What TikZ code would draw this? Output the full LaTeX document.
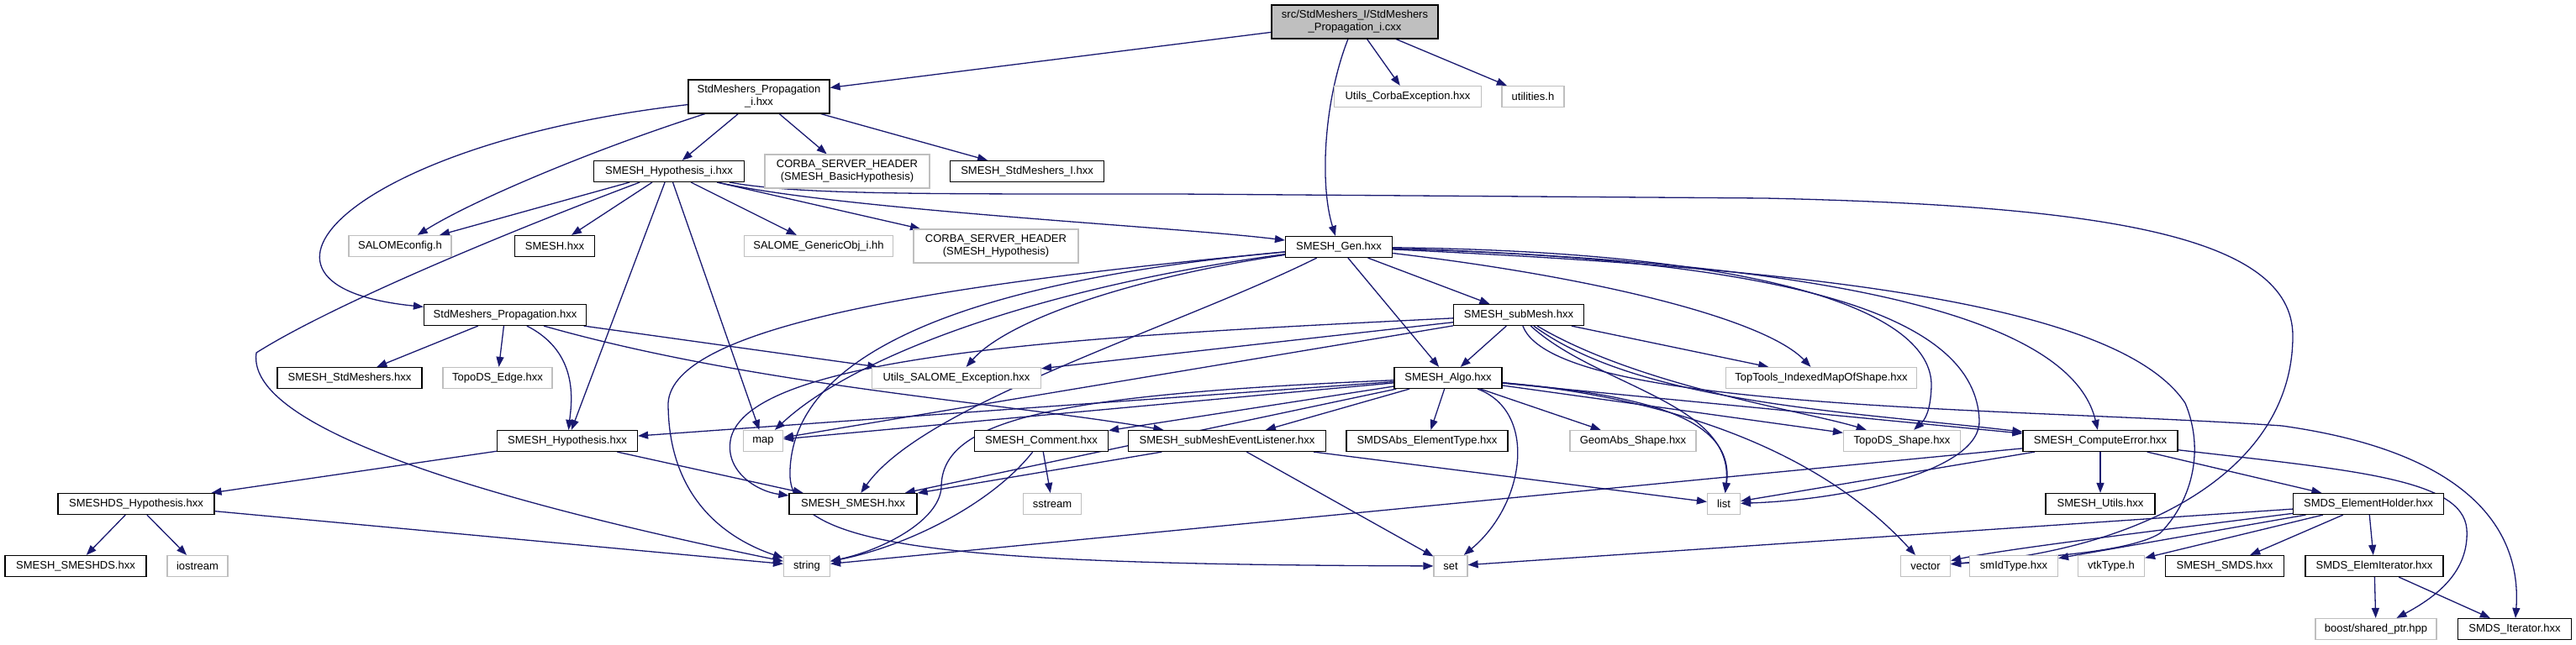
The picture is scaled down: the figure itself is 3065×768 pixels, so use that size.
\documentclass[tikz,border=0pt]{standalone}
\usepackage{fontspec}
\setmainfont{Liberation Sans}
\usepackage{tikz}
\usetikzlibrary{arrows.meta, backgrounds}
\definecolor{edgeblue}{HTML}{191970}
\definecolor{sysgray}{HTML}{BFBFBF}
\newcommand{\graphfont}{\fontsize{13}{15}\selectfont}

\begin{document}
\begin{tikzpicture}[
    x=1pt, y=-1pt,
    box/.style={draw=black, line width=1.2pt, fill=white, minimum height=25pt, inner xsep=2pt, inner ysep=1pt, align=center, font=\graphfont},
    sysbox/.style={box, draw=sysgray},
    arrow/.style={-{Triangle[length=12pt, width=9pt]}, color=edgeblue, line width=1.3pt},
]
    \useasboundingbox (0,0) rectangle (3065,768);

    % source file and first level
    \node[box, fill=sysgray, minimum width=198pt, minimum height=40pt] (cxx) at (1612,26) {src/StdMeshers\_I/StdMeshers\\\_Propagation\_i.cxx};
    \node[box, minimum width=168pt, minimum height=40pt] (propi) at (903,115) {StdMeshers\_Propagation\\\_i.hxx};
    \node[sysbox, minimum width=175pt] (corbaexc) at (1675,115) {Utils\_CorbaException.hxx};
    \node[sysbox, minimum width=74pt] (utilities) at (1824,115) {utilities.h};

    \node[box, minimum width=179pt] (hypi) at (796,204) {SMESH\_Hypothesis\_i.hxx};
    \node[sysbox, minimum width=196pt, minimum height=40pt] (basichyp) at (1008,204) {CORBA\_SERVER\_HEADER\\(SMESH\_BasicHypothesis)};
    \node[box, minimum width=183pt] (stdmi) at (1222,204) {SMESH\_StdMeshers\_I.hxx};

    \node[sysbox, minimum width=122pt] (salomeconfig) at (476,293) {SALOMEconfig.h};
    \node[box, minimum width=95pt] (smeshidl) at (660,293) {SMESH.hxx};
    \node[sysbox, minimum width=177pt] (genericobj) at (974,293) {SALOME\_GenericObj\_i.hh};
    \node[sysbox, minimum width=196pt, minimum height=40pt] (corbahyp) at (1185,293) {CORBA\_SERVER\_HEADER\\(SMESH\_Hypothesis)};
    \node[box, minimum width=127pt] (gen) at (1593,294) {SMESH\_Gen.hxx};

    \node[box, minimum width=193pt] (prop) at (601,375) {StdMeshers\_Propagation.hxx};
    \node[box, minimum width=155pt] (submesh) at (1807,375) {SMESH\_subMesh.hxx};

    \node[box, minimum width=172pt] (stdmeshers) at (416,450) {SMESH\_StdMeshers.hxx};
    \node[sysbox, minimum width=130pt] (topoedge) at (592,450) {TopoDS\_Edge.hxx};
    \node[sysbox, minimum width=201pt] (utilsexc) at (1138,450) {Utils\_SALOME\_Exception.hxx};
    \node[box, minimum width=128pt] (algo) at (1723,450) {SMESH\_Algo.hxx};
    \node[sysbox, minimum width=227pt] (toptools) at (2167,450) {TopTools\_IndexedMapOfShape.hxx};

    \node[box, minimum width=167pt] (hyp) at (675,525) {SMESH\_Hypothesis.hxx};
    \node[sysbox, minimum width=47pt] (map) at (908,525) {map};
    \node[box, minimum width=159pt] (comment) at (1239,525) {SMESH\_Comment.hxx};
    \node[box, minimum width=235pt] (listener) at (1460,525) {SMESH\_subMeshEventListener.hxx};
    \node[box, minimum width=192pt] (elemtype) at (1698,525) {SMDSAbs\_ElementType.hxx};
    \node[sysbox, minimum width=150pt] (geomabs) at (1943,525) {GeomAbs\_Shape.hxx};
    \node[sysbox, minimum width=139pt] (toposhape) at (2263,525) {TopoDS\_Shape.hxx};
    \node[box, minimum width=184pt] (computeerror) at (2499,525) {SMESH\_ComputeError.hxx};

    \node[box, minimum width=186pt] (smeshdshyp) at (162,600) {SMESHDS\_Hypothesis.hxx};
    \node[box, minimum width=152pt] (smeshsmesh) at (1015,600) {SMESH\_SMESH.hxx};
    \node[sysbox, minimum width=69pt] (sstream) at (1252,600) {sstream};
    \node[sysbox, minimum width=39pt] (list) at (2051,600) {list};
    \node[box, minimum width=130pt] (utils) at (2499,600) {SMESH\_Utils.hxx};
    \node[box, minimum width=179pt] (elemholder) at (2818,600) {SMDS\_ElementHolder.hxx};

    \node[box, minimum width=168pt] (smeshds) at (90,674) {SMESH\_SMESHDS.hxx};
    \node[sysbox, minimum width=72pt] (iostream) at (235,674) {iostream};
    \node[sysbox, minimum width=55pt] (string) at (960,674) {string};
    \node[sysbox, minimum width=40pt] (set) at (1726,674) {set};
    \node[sysbox, minimum width=59pt] (vector) at (2291,674) {vector};
    \node[sysbox, minimum width=105pt] (smidtype) at (2396,674) {smIdType.hxx};
    \node[sysbox, minimum width=79pt] (vtktype) at (2512,674) {vtkType.h};
    \node[box, minimum width=141pt] (smeshsmds) at (2647,674) {SMESH\_SMDS.hxx};
    \node[box, minimum width=164pt] (elemiter) at (2825,674) {SMDS\_ElemIterator.hxx};

    \node[sysbox, minimum width=144pt] (boost) at (2827,749) {boost/shared\_ptr.hpp};
    \node[box, minimum width=135pt] (smdsiter) at (2992,749) {SMDS\_Iterator.hxx};

    \begin{scope}[on background layer]
    % includes of the source file
    \draw[arrow] (cxx) -- (propi);
    \draw[arrow] (cxx) .. controls (1575,120) and (1570,220) .. (gen);
    \draw[arrow] (cxx) -- (corbaexc);
    \draw[arrow] (cxx) -- (utilities);

    % StdMeshers_Propagation_i.hxx
    \draw[arrow] (propi) -- (hypi);
    \draw[arrow] (propi) -- (basichyp);
    \draw[arrow] (propi) -- (stdmi);
    \draw[arrow] (propi) .. controls (700,180) and (560,240) .. (salomeconfig);
    \draw[arrow] (propi) .. controls (420,170) and (250,340) .. (prop);

    % SMESH_Hypothesis_i.hxx
    \draw[arrow] (hypi) -- (salomeconfig);
    \draw[arrow] (hypi) -- (smeshidl);
    \draw[arrow] (hypi) -- (genericobj);
    \draw[arrow] (hypi) -- (corbahyp);
    \draw[arrow] (hypi) .. controls (1000,250) and (1400,270) .. (gen);
    \draw[arrow] (hypi) -- (hyp);
    \draw[arrow] (hypi) -- (map);
    \draw[arrow] (hypi) .. controls (620,270) and (400,360) .. (305,420) .. controls (290,520) and (650,610) .. (string);
    \draw[arrow] (hypi) .. controls (950,232) and (1100,231) .. (1400,231) -- (2100,236) .. controls (2500,245) and (2728,280) .. (2728,400) .. controls (2728,560) and (2550,655) .. (vector);

    % StdMeshers_Propagation.hxx
    \draw[arrow] (prop) -- (stdmeshers);
    \draw[arrow] (prop) -- (topoedge);
    \draw[arrow] (prop) .. controls (690,420) and (680,480) .. (hyp);
    \draw[arrow] (prop) -- (utilsexc);
    \draw[arrow] (prop) .. controls (900,460) and (1200,480) .. (listener);

    % SMESH_Gen.hxx
    \draw[arrow] (gen) -- (submesh);
    \draw[arrow] (gen) -- (algo);
    \draw[arrow] (gen) .. controls (1900,330) and (2100,380) .. (toptools);
    \draw[arrow] (gen) .. controls (2100,300) and (2300,370) .. (2298,460) .. controls (2297,490) and (2290,500) .. (toposhape);
    \draw[arrow] (gen) .. controls (2100,310) and (2460,360) .. (computeerror);
    \draw[arrow] (gen) .. controls (2150,310) and (2350,380) .. (2355,500) .. controls (2358,560) and (2200,595) .. (list);
    \draw[arrow] (gen) .. controls (2150,320) and (2520,360) .. (2600,480) .. controls (2625,540) and (2605,600) .. (2570,635) .. controls (2530,660) and (2400,665) .. (vector);
    \draw[arrow] (gen) .. controls (1350,330) and (1200,380) .. (utilsexc);
    \draw[arrow] (gen) .. controls (1250,340) and (1020,420) .. (map);
    \draw[arrow] (gen) .. controls (1100,340) and (800,390) .. (795,480) .. controls (795,590) and (860,640) .. (string);
    \draw[arrow] (gen) .. controls (1150,335) and (945,420) .. (940,560) .. controls (935,650) and (1100,672) .. (set);
    \draw[arrow] (gen) .. controls (1400,390) and (1100,480) .. (smeshsmesh);

    % SMESH_subMesh.hxx
    \draw[arrow] (submesh) -- (algo);
    \draw[arrow] (submesh) -- (toptools);
    \draw[arrow] (submesh) -- (utilsexc);
    \draw[arrow] (submesh) -- (map);
    \draw[arrow] (submesh) .. controls (1300,400) and (900,420) .. (870,520) .. controls (860,560) and (900,585) .. (smeshsmesh);
    \draw[arrow] (submesh) .. controls (1900,460) and (2065,480) .. (list);
    \draw[arrow] (submesh) .. controls (1950,460) and (2150,490) .. (toposhape);
    \draw[arrow] (submesh) .. controls (1950,480) and (2200,490) .. (computeerror);
    \draw[arrow] (submesh) .. controls (1850,490) and (2400,485) .. (2715,507) .. controls (2950,540) and (3000,640) .. (smdsiter);

    % SMESH_Algo.hxx
    \draw[arrow] (algo) -- (hyp);
    \draw[arrow] (algo) -- (comment);
    \draw[arrow] (algo) -- (listener);
    \draw[arrow] (algo) -- (elemtype);
    \draw[arrow] (algo) -- (geomabs);
    \draw[arrow] (algo) .. controls (1830,490) and (1815,600) .. (set);
    \draw[arrow] (algo) -- (map);
    \draw[arrow] (algo) -- (smeshsmesh);
    \draw[arrow] (algo) .. controls (1250,470) and (1120,500) .. (1120,580) .. controls (1118,620) and (1050,655) .. (string);
    \draw[arrow] (algo) .. controls (1950,470) and (2065,495) .. (list);
    \draw[arrow] (algo) -- (toposhape);
    \draw[arrow] (algo) -- (computeerror);
    \draw[arrow] (algo) .. controls (1950,470) and (2150,520) .. (vector);

    % lower levels
    \draw[arrow] (comment) -- (sstream);
    \draw[arrow] (comment) .. controls (1180,600) and (1080,650) .. (string);
    \draw[arrow] (listener) -- (smeshsmesh);
    \draw[arrow] (listener) -- (list);
    \draw[arrow] (listener) -- (set);
    \draw[arrow] (hyp) -- (smeshdshyp);
    \draw[arrow] (hyp) -- (smeshsmesh);
    \draw[arrow] (smeshdshyp) -- (smeshds);
    \draw[arrow] (smeshdshyp) -- (iostream);
    \draw[arrow] (smeshdshyp) -- (string);
    \draw[arrow] (computeerror) -- (list);
    \draw[arrow] (computeerror) -- (string);
    \draw[arrow] (computeerror) -- (utils);
    \draw[arrow] (computeerror) -- (elemholder);
    \draw[arrow] (computeerror) .. controls (2800,560) and (2930,570) .. (2935,630) .. controls (2938,680) and (2900,710) .. (boost);
    \draw[arrow] (elemholder) -- (set);
    \draw[arrow] (elemholder) .. controls (2500,640) and (2380,655) .. (vector);
    \draw[arrow] (elemholder) -- (smidtype);
    \draw[arrow] (elemholder) -- (vtktype);
    \draw[arrow] (elemholder) -- (smeshsmds);
    \draw[arrow] (elemholder) -- (elemiter);
    \draw[arrow] (elemiter) -- (boost);
    \draw[arrow] (elemiter) -- (smdsiter);
    \end{scope}
\end{tikzpicture}
\end{document}
